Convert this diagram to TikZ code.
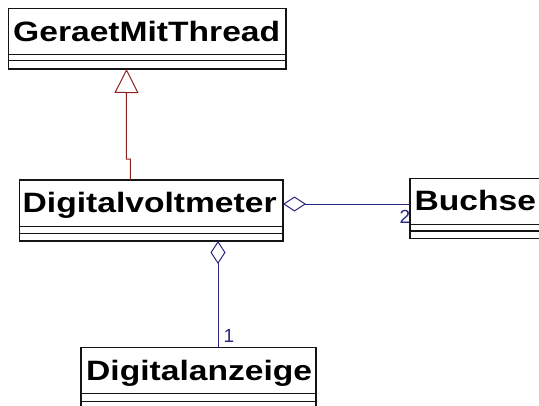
\documentclass[tikz,border=0pt]{standalone}
\usepackage{fontspec}
\setmainfont{Liberation Sans}
\usetikzlibrary{arrows.meta,calc}
\definecolor{inherit}{RGB}{140,35,35}
\definecolor{assoc}{RGB}{40,40,130}
\definecolor{frame}{RGB}{20,20,20}
% class names are set in a wide bold sans
\newcommand{\widename}[1]{\scalebox{1.2}[1]{#1}}
\tikzset{
  classbox/.style={draw=frame, line width=1.2pt, fill=white, inner sep=0pt,
    outer sep=0pt, anchor=north west},
  classname/.style={anchor=base west, inner sep=0pt,
    font=\fontsize{28}{30}\selectfont\bfseries},
  compartment/.style={draw=frame, line width=1.2pt},
  generalization/.style={draw=inherit, line width=1pt,
    -{Triangle[open, length=24pt, width=24pt, line width=1pt, fill=white]}},
  aggregation/.style={draw=assoc, line width=1pt,
    {Diamond[open, length=23pt, width=15pt, line width=1pt, fill=white]}-},
  mult/.style={text=assoc, anchor=base west, inner sep=0pt,
    font=\fontsize{19}{19}\selectfont}
}
\begin{document}
\begin{tikzpicture}[x=1pt, y=-1pt]
  \useasboundingbox (0,0) rectangle (539,405);
  \fill[white] (0,0) rectangle (539,405);
  \clip (0,0) rectangle (539,405);

  % class boxes
  \node[classbox, minimum width=277.7pt, minimum height=60.7pt] (gmt) at (8.3,8.3) {};
  \node[classbox, minimum width=263.7pt, minimum height=61pt] (dvm) at (19.3,180) {};
  \node[classbox, minimum width=150pt, minimum height=60pt] (bus) at (410,178.3) {};
  \node[classbox, minimum width=235pt, minimum height=72pt] (dig) at (81,347.7) {};

  % class names
  \node[classname] (gmtname) at (13,41.7) {\widename{GeraetMitThread}};
  \node[classname] (dvmname) at (22.5,212.3) {\widename{Digitalvoltmeter}};
  \node[classname] (busname) at (414.5,210.7) {\widename{Buchse}};
  \node[classname] (digname) at (86,380) {\widename{Digitalanzeige}};

  % attribute and operation compartments
  \draw[compartment] (gmt.west |- 0,54.3) -- (gmt.east |- 0,54.3)
                     (gmt.west |- 0,60.7) -- (gmt.east |- 0,60.7);
  \draw[compartment] (dvm.west |- 0,226.7) -- (dvm.east |- 0,226.7)
                     (dvm.west |- 0,233.3) -- (dvm.east |- 0,233.3);
  \draw[compartment] (bus.west |- 0,224.3) -- (bus.east |- 0,224.3)
                     (bus.west |- 0,231) -- (bus.east |- 0,231);
  \draw[compartment] (dig.west |- 0,393.3) -- (dig.east |- 0,393.3)
                     (dig.west |- 0,401.7) -- (dig.east |- 0,401.7);

  % Digitalvoltmeter specialises GeraetMitThread
  \draw[generalization] ([xshift=111pt]dvm.north west) -- ++(0,-21) -- ++(-4,0)
    -- (gmt.south west -| 126.5,0);

  % aggregations
  \draw[aggregation] (dvm.east |- 0,204) -- (bus.west |- 0,204);
  \draw[aggregation] (dvm.south west -| 218,0) -- (dig.north west -| 218,0);

  % multiplicities
  \node[mult] (m2) at (399.5,223) {2};
  \node[mult] (m1) at (223.5,342) {1};
\end{tikzpicture}
\end{document}
